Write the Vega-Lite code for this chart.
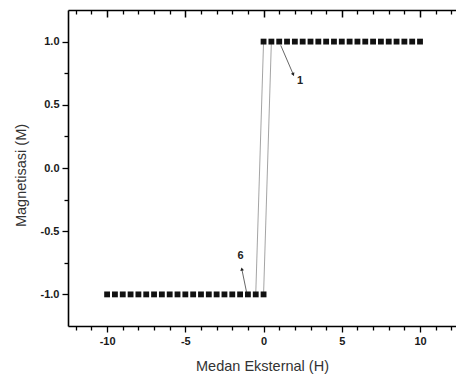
{
  "$schema": "https://vega.github.io/schema/vega-lite/v6.json",
  "width": 388,
  "height": 316,
  "autosize": {"type": "none"},
  "padding": {"left": 68, "top": 10, "right": 0, "bottom": 50},
  "background": "white",
  "config": {"view": {"stroke": null}, "font": "Liberation Sans"},
  "datasets": {
    "pts": [
      {"H": 0, "M": 1}, {"H": 0.5, "M": 1}, {"H": 1, "M": 1}, {"H": 1.5, "M": 1}, {"H": 2, "M": 1},
      {"H": 2.5, "M": 1}, {"H": 3, "M": 1}, {"H": 3.5, "M": 1}, {"H": 4, "M": 1}, {"H": 4.5, "M": 1},
      {"H": 5, "M": 1}, {"H": 5.5, "M": 1}, {"H": 6, "M": 1}, {"H": 6.5, "M": 1}, {"H": 7, "M": 1},
      {"H": 7.5, "M": 1}, {"H": 8, "M": 1}, {"H": 8.5, "M": 1}, {"H": 9, "M": 1}, {"H": 9.5, "M": 1},
      {"H": 10, "M": 1},
      {"H": -10, "M": -1}, {"H": -9.5, "M": -1}, {"H": -9, "M": -1}, {"H": -8.5, "M": -1}, {"H": -8, "M": -1},
      {"H": -7.5, "M": -1}, {"H": -7, "M": -1}, {"H": -6.5, "M": -1}, {"H": -6, "M": -1}, {"H": -5.5, "M": -1},
      {"H": -5, "M": -1}, {"H": -4.5, "M": -1}, {"H": -4, "M": -1}, {"H": -3.5, "M": -1}, {"H": -3, "M": -1},
      {"H": -2.5, "M": -1}, {"H": -2, "M": -1}, {"H": -1.5, "M": -1}, {"H": -1, "M": -1}, {"H": -0.5, "M": -1},
      {"H": 0, "M": -1}
    ],
    "loops": [
      {"seg": "down", "o": 1, "H": 0, "M": 1},
      {"seg": "down", "o": 2, "H": -0.5, "M": -1},
      {"seg": "up", "o": 1, "H": 0, "M": -1},
      {"seg": "up", "o": 2, "H": 0.5, "M": 1}
    ],
    "arrows": [
      {"seg": "a1", "o": 1, "H": 1.1, "M": 0.97},
      {"seg": "a1", "o": 2, "H": 1.9, "M": 0.74},
      {"seg": "a6", "o": 1, "H": -1.09, "M": -0.98},
      {"seg": "a6", "o": 2, "H": -1.39, "M": -0.8}
    ],
    "heads": [
      {"H": 1.9, "M": 0.74, "ang": 155},
      {"H": -1.39, "M": -0.8, "ang": 348}
    ],
    "labels": [
      {"H": 2.33, "M": 0.69, "t": "1"},
      {"H": -1.47, "M": -0.7, "t": "6"}
    ]
  },
  "resolve": {"axis": {"x": "independent", "y": "independent"}},
  "layer": [
    {
      "data": {"name": "arrows"},
      "mark": {"type": "line", "color": "#555", "strokeWidth": 0.9},
      "encoding": {
        "x": {
          "field": "H", "type": "quantitative",
          "scale": {"domain": [-12.5, 12.3], "nice": false, "zero": false},
          "axis": {
            "orient": "bottom", "offset": -316, "values": [-10, -5, 0, 5, 10],
            "grid": false, "labels": false, "title": null,
            "domainColor": "black", "domainWidth": 1.6,
            "tickSize": 7, "tickColor": "black", "tickWidth": 1.5
          }
        },
        "y": {
          "field": "M", "type": "quantitative",
          "scale": {"domain": [-1.25, 1.25], "nice": false, "zero": false},
          "axis": null
        },
        "detail": {"field": "seg"},
        "order": {"field": "o"}
      }
    },
    {
      "data": {"name": "heads"},
      "mark": {"type": "point", "shape": "triangle-up", "filled": true, "size": 14, "color": "#222", "opacity": 1},
      "encoding": {
        "x": {
          "field": "H", "type": "quantitative",
          "scale": {"domain": [-12.5, 12.3], "nice": false, "zero": false},
          "axis": {
            "orient": "bottom", "offset": -316, "values": [-12, -11, -9, -8, -7, -6, -4, -3, -2, -1, 1, 2, 3, 4, 6, 7, 8, 9, 11, 12],
            "grid": false, "labels": false, "domain": false, "title": null,
            "tickSize": 4, "tickColor": "black", "tickWidth": 1.3
          }
        },
        "y": {
          "field": "M", "type": "quantitative",
          "scale": {"domain": [-1.25, 1.25], "nice": false, "zero": false},
          "axis": null
        },
        "angle": {"field": "ang", "type": "quantitative", "scale": null}
      }
    },
    {
      "data": {"name": "loops"},
      "mark": {"type": "line", "color": "#9a9a9a", "strokeWidth": 0.9},
      "encoding": {
        "x": {
          "field": "H", "type": "quantitative",
          "scale": {"domain": [-12.5, 12.3], "nice": false, "zero": false},
          "axis": {
            "orient": "bottom", "values": [-12, -11, -9, -8, -7, -6, -4, -3, -2, -1, 1, 2, 3, 4, 6, 7, 8, 9, 11, 12],
            "grid": false, "labels": false, "domain": false, "title": null,
            "tickSize": 4, "tickColor": "black", "tickWidth": 1.3
          }
        },
        "y": {
          "field": "M", "type": "quantitative",
          "scale": {"domain": [-1.25, 1.25], "nice": false, "zero": false},
          "axis": {
            "orient": "left", "values": [-0.75, -0.25, 0.25, 0.75],
            "grid": false, "labels": false, "domain": false, "title": null,
            "tickSize": 4, "tickColor": "black", "tickWidth": 1.3
          }
        },
        "detail": {"field": "seg"},
        "order": {"field": "o"}
      }
    },
    {
      "data": {"name": "pts"},
      "mark": {"type": "point", "shape": "square", "filled": true, "size": 34, "color": "#111", "opacity": 1},
      "encoding": {
        "x": {
          "field": "H", "type": "quantitative",
          "scale": {"domain": [-12.5, 12.3], "nice": false, "zero": false},
          "axis": {
            "orient": "bottom", "values": [-10, -5, 0, 5, 10], "grid": false,
            "tickSize": 6, "tickColor": "black", "tickWidth": 1.3,
            "domainColor": "black", "domainWidth": 1.6,
            "labelFont": "Liberation Sans", "labelFontWeight": "bold", "labelFontSize": 11,
            "labelColor": "#1a1a1a", "labelPadding": 3, "labelFlush": false,
            "labelExpr": "replace(datum.label, '\u2212', '-')",
            "title": "Medan Eksternal (H)", "titleFont": "Liberation Sans", "titleFontSize": 14.5,
            "titleFontWeight": "normal", "titleColor": "#333",
            "titleY": 44, "titleBaseline": "alphabetic"
          }
        },
        "y": {
          "field": "M", "type": "quantitative",
          "scale": {"domain": [-1.25, 1.25], "nice": false, "zero": false},
          "axis": {
            "orient": "left", "values": [-1, -0.5, 0, 0.5, 1], "format": ".1f", "grid": false,
            "tickSize": 6, "tickColor": "black", "tickWidth": 1.3,
            "domainColor": "black", "domainWidth": 1.6,
            "labelFont": "Liberation Sans", "labelFontWeight": "bold", "labelFontSize": 11,
            "labelColor": "#1a1a1a", "labelPadding": 3, "labelFlush": false,
            "labelExpr": "replace(datum.label, '\u2212', '-')",
            "title": "Magnetisasi (M)", "titleFont": "Liberation Sans", "titleFontSize": 14.5,
            "titleFontWeight": "normal", "titleColor": "#333",
            "titleX": -47, "titleY": 165, "titleBaseline": "middle"
          }
        }
      }
    },
    {
      "data": {"name": "labels"},
      "mark": {"type": "text", "font": "Liberation Sans", "fontWeight": "bold", "fontSize": 11, "color": "#222", "align": "center", "baseline": "middle"},
      "encoding": {
        "x": {
          "field": "H", "type": "quantitative",
          "scale": {"domain": [-12.5, 12.3], "nice": false, "zero": false},
          "axis": null
        },
        "y": {
          "field": "M", "type": "quantitative",
          "scale": {"domain": [-1.25, 1.25], "nice": false, "zero": false},
          "axis": null
        },
        "text": {"field": "t"}
      }
    }
  ]
}
